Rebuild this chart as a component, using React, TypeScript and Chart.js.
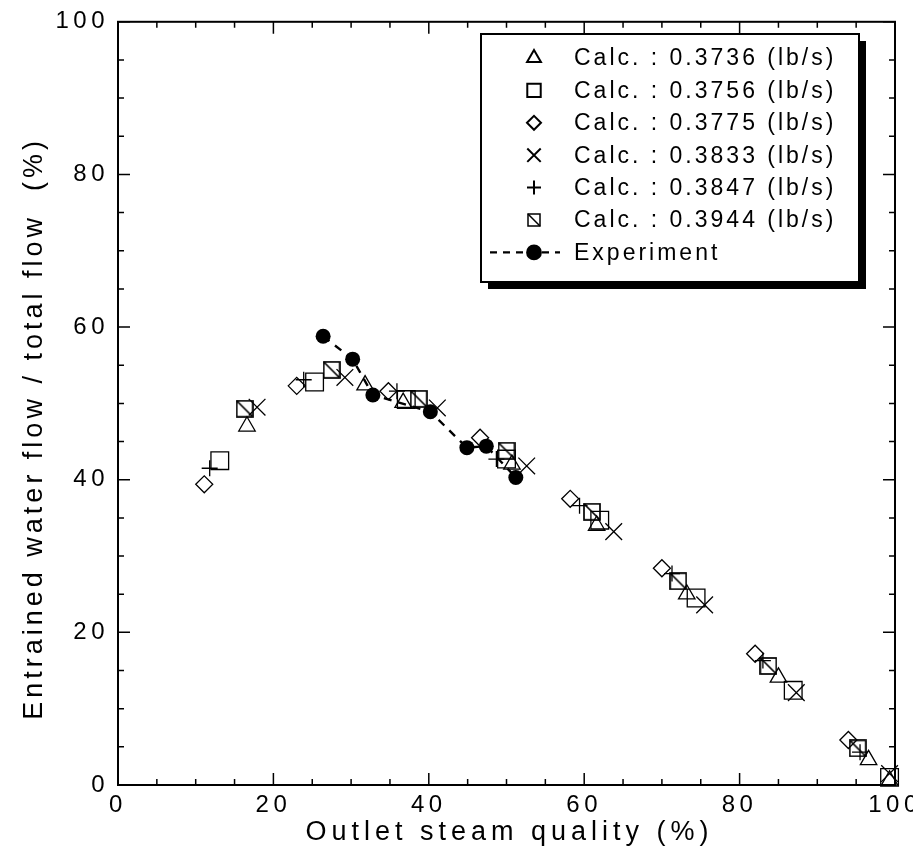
import React, { useEffect, useRef } from 'react';
import { Chart, registerables } from 'chart.js';
import { drawPoint } from 'chart.js/helpers';

Chart.register(...registerables);

// ---- data (x: outlet steam quality %, y: entrained water flow / total flow %) ----
const calc3736: [number, number][] = [
  [16.6, 47.0], [31.8, 52.4], [36.7, 50.1], [50.7, 42.0], [61.6, 34.0], [73.2, 25.0], [85.0, 14.1], [96.6, 3.3], [99.3, 0.6],
];
const calc3756: [number, number][] = [
  [13.1, 42.5], [25.3, 52.8], [37.1, 50.5], [50.0, 42.7], [62.0, 34.7], [74.4, 24.5], [86.9, 12.4], [99.3, 1.0],
];
const calc3775: [number, number][] = [
  [11.1, 39.4], [23.0, 52.3], [34.8, 51.6], [46.6, 45.5], [58.2, 37.5], [70.0, 28.4], [82.0, 17.2], [94.0, 5.9],
];
const calc3833: [number, number][] = [
  [17.9, 49.5], [29.2, 53.4], [41.1, 49.4], [52.6, 41.8], [63.8, 33.2], [75.5, 23.6], [87.3, 12.1], [99.3, 1.5],
];
const calc3847: [number, number][] = [
  [11.8, 41.5], [23.9, 53.1], [35.9, 51.6], [48.7, 42.7], [59.4, 36.6], [71.3, 27.7], [83.0, 16.3], [95.5, 4.3],
];
const calc3944: [number, number][] = [
  [16.3, 49.3], [27.5, 54.4], [38.7, 50.6], [50.0, 43.8], [61.0, 35.8], [72.1, 26.7], [83.7, 15.6], [95.2, 4.8],
];
const experiment: [number, number][] = [
  [26.4, 58.8], [30.2, 55.8], [32.8, 51.1], [40.2, 48.9], [44.9, 44.2], [47.4, 44.4], [51.2, 40.3],
];

const legendLabels = [
  'Calc. : 0.3736 (lb/s)',
  'Calc. : 0.3756 (lb/s)',
  'Calc. : 0.3775 (lb/s)',
  'Calc. : 0.3833 (lb/s)',
  'Calc. : 0.3847 (lb/s)',
  'Calc. : 0.3944 (lb/s)',
  'Experiment',
];
const xTitle = 'Outlet steam quality (%)';
const yTitle = 'Entrained water flow / total flow  (%)';
const axisMin = 0;
const axisMax = 100;
const labelStep = 20;
const minorStep = 5;

const FONT = '"Liberation Sans", Arial, Helvetica, sans-serif';

function makeDiagSquare(s: number, lw: number): HTMLCanvasElement {
  const c = document.createElement('canvas');
  c.width = s;
  c.height = s;
  const g = c.getContext('2d')!;
  g.strokeStyle = '#000';
  g.lineWidth = lw;
  const o = 1;
  g.strokeRect(o, o, s - 2 * o, s - 2 * o);
  g.beginPath();
  g.moveTo(o, o);
  g.lineTo(s - o, s - o);
  g.stroke();
  return c;
}

const toPts = (arr: [number, number][]) => arr.map(([x, y]) => ({ x, y }));

export default function App() {
  const ref = useRef<HTMLCanvasElement | null>(null);

  useEffect(() => {
    if (!ref.current) return;
    const diagBig = makeDiagSquare(18, 1.7);
    const diagSmall = makeDiagSquare(14, 1.5);

    const legendMarkers: any[] = [
      { pointStyle: 'triangle', radius: 8, borderWidth: 1.2 },
      { pointStyle: 'rect', radius: 9.5, borderWidth: 1.2 },
      { pointStyle: 'rectRot', radius: 7, borderWidth: 1.2 },
      { pointStyle: 'crossRot', radius: 9.5, borderWidth: 1.2 },
      { pointStyle: 'cross', radius: 7, borderWidth: 1.2 },
      { pointStyle: diagSmall, radius: 7, borderWidth: 1.2 },
    ];

    const open = (data: [number, number][], style: any, r: number) => ({
      data: toPts(data),
      pointStyle: style,
      pointRadius: r,
      pointBorderWidth: 1.3,
      pointBorderColor: '#000',
      pointBackgroundColor: 'rgba(0,0,0,0)',
      showLine: false,
      clip: false as any,
      order: 1,
    });

    const decor = {
      id: 'decor',
      beforeDraw(chart: any) {
        (chart.ctx as any).letterSpacing = '4.5px';
      },
      afterDraw(chart: any) {
        const ctx: CanvasRenderingContext2D = chart.ctx;
        const a = chart.chartArea;
        const xs = chart.scales.x;
        const ys = chart.scales.y;
        ctx.save();
        (ctx as any).letterSpacing = '0px';
        ctx.strokeStyle = '#000';
        ctx.fillStyle = '#000';
        // frame
        ctx.lineWidth = 2;
        ctx.strokeRect(a.left, a.top, a.right - a.left, a.bottom - a.top);
        // inward ticks on all sides
        ctx.lineWidth = 1.5;
        for (let v = axisMin; v <= axisMax; v += minorStep) {
          const len = v % labelStep === 0 ? 12 : 6;
          const px = xs.getPixelForValue(v);
          const py = ys.getPixelForValue(v);
          ctx.beginPath();
          ctx.moveTo(px, a.bottom); ctx.lineTo(px, a.bottom - len);
          ctx.moveTo(px, a.top); ctx.lineTo(px, a.top + len);
          ctx.moveTo(a.left, py); ctx.lineTo(a.left + len, py);
          ctx.moveTo(a.right, py); ctx.lineTo(a.right - len, py);
          ctx.stroke();
        }
        // axis titles
        ctx.font = `27px ${FONT}`;
        ctx.textAlign = 'center';
        ctx.textBaseline = 'middle';
        (ctx as any).letterSpacing = '5px';
        ctx.fillText(xTitle, (a.left + a.right) / 2 + 3, 825);
        ctx.save();
        ctx.translate(27, (a.top + a.bottom) / 2 + 25);
        ctx.rotate(-Math.PI / 2);
        (ctx as any).letterSpacing = '4px';
        ctx.fillText(yTitle, 0, 0);
        ctx.restore();

        // legend box with shadow
        const bx = 473, by = 26, bw = 378, bh = 248;
        ctx.fillStyle = '#000';
        ctx.fillRect(bx + 7, by + 7, bw, bh);
        ctx.fillStyle = '#fff';
        ctx.fillRect(bx, by, bw, bh);
        ctx.lineWidth = 2;
        ctx.strokeStyle = '#000';
        ctx.strokeRect(bx, by, bw, bh);

        const mx = 526;
        const tx = 566;
        ctx.font = `23px ${FONT}`;
        ctx.textAlign = 'left';
        ctx.textBaseline = 'middle';
        for (let i = 0; i < legendLabels.length; i++) {
          const cy = 50 + i * 32.4;
          ctx.save();
          (ctx as any).letterSpacing = '0px';
          ctx.strokeStyle = '#000';
          if (i < 6) {
            ctx.fillStyle = 'rgba(0,0,0,0)';
            drawPoint(ctx, { ...legendMarkers[i], rotation: 0 }, mx, cy);
          } else {
            ctx.lineWidth = 2.2;
            ctx.setLineDash([7, 6]);
            ctx.beginPath();
            ctx.moveTo(482, cy);
            ctx.lineTo(552, cy);
            ctx.stroke();
            ctx.setLineDash([]);
            ctx.fillStyle = '#000';
            drawPoint(ctx, { pointStyle: 'circle', radius: 6.8, borderWidth: 1, rotation: 0 }, mx, cy);
          }
          ctx.restore();
          ctx.fillStyle = '#000';
          (ctx as any).letterSpacing = '3px';
          ctx.fillText(legendLabels[i], tx, cy + 1);
        }
        ctx.restore();
      },
    };

    const chart = new Chart(ref.current, {
      type: 'scatter',
      data: {
        datasets: [
          {
            label: legendLabels[6],
            data: toPts(experiment),
            showLine: true,
            borderColor: '#000',
            borderWidth: 2.4,
            borderDash: [8, 7],
            pointStyle: 'circle',
            pointRadius: 7.5,
            pointBackgroundColor: '#000',
            pointBorderColor: '#000',
            pointBorderWidth: 0,
            tension: 0,
            order: 0,
          } as any,
          open(calc3736, 'triangle', 9.5),
          open(calc3756, 'rect', 12.5),
          open(calc3775, 'rectRot', 8.5),
          open(calc3833, 'crossRot', 11.8),
          open(calc3847, 'cross', 8),
          open(calc3944, diagBig, 9),
        ],
      },
      options: {
        responsive: false,
        animation: false,
        layout: { padding: { top: 8, right: 18, left: 0, bottom: 0 } },
        plugins: {
          legend: { display: false },
          tooltip: { enabled: false },
          title: { display: false },
        },
        scales: {
          x: {
            type: 'linear',
            min: axisMin,
            max: axisMax,
            grid: { display: false, drawTicks: false },
            border: { display: false },
            ticks: {
              stepSize: labelStep,
              padding: 6,
              color: '#000',
              maxRotation: 0,
              font: { family: FONT, size: 24 },
            },
            afterFit(scale: any) {
              scale.height = 66;
              scale.paddingLeft = 0;
              scale.paddingRight = 0;
            },
          },
          y: {
            type: 'linear',
            min: axisMin,
            max: axisMax,
            grid: { display: false, drawTicks: false },
            border: { display: false },
            ticks: {
              stepSize: labelStep,
              padding: 9,
              color: '#000',
              font: { family: FONT, size: 24 },
            },
            afterFit(scale: any) {
              scale.width = 110;
              scale.paddingTop = 0;
              scale.paddingBottom = 0;
            },
          },
        },
      },
      plugins: [decor],
    } as any);

    return () => chart.destroy();
  }, []);

  return (
    <div style={{ width: 905, height: 843 }}>
      <canvas ref={ref} width={905} height={843} style={{ display: 'block' }} />
    </div>
  );
}
